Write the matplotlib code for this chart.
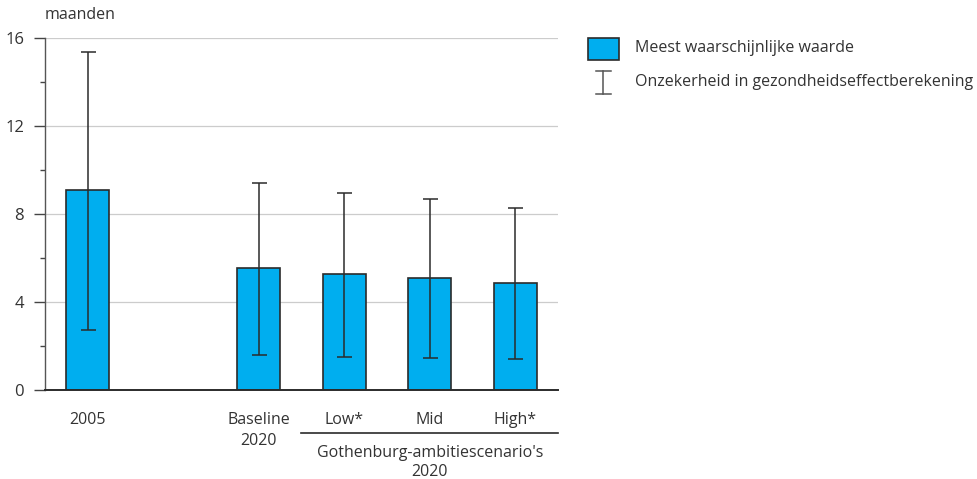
import numpy as np
import matplotlib.pyplot as plt
from matplotlib.patches import Rectangle
from matplotlib.lines import Line2D
import matplotlib.transforms as mtransforms

plt.rcParams['font.family'] = ['Open Sans', 'DejaVu Sans']
plt.rcParams['font.size'] = 11.5

# gezondheidseffect in maanden
labels = ['2005', 'Baseline', 'Low*', 'Mid', 'High*']
sublabels = ['', '2020', '', '', '']
positions = [0, 2, 3, 4, 5]
waarde = [9.10, 5.54, 5.26, 5.10, 4.85]
onder = [2.72, 1.61, 1.52, 1.46, 1.40]
boven = [15.38, 9.42, 8.96, 8.69, 8.28]

blauw = '#00aeef'
donker = '#2b2b2b'
tekst = '#333333'

fig = plt.figure(figsize=(9.78, 4.79), dpi=100)
ax = fig.add_axes([45 / 978, 1 - 390 / 479, 513 / 978, 351.7 / 479])

w = np.array(waarde)
yerr = [w - np.array(onder), np.array(boven) - w]
ax.bar(positions, waarde, width=0.5, color=blauw, edgecolor=donker, linewidth=1.2, zorder=2)
ax.errorbar(positions, waarde, yerr=yerr, fmt='none', ecolor=donker, elinewidth=1.1,
            capsize=5.4, capthick=1.1, zorder=3)

ax.set_xlim(-0.5, 5.5)
ax.set_ylim(0, 16)
ax.set_yticks([0, 4, 8, 12, 16])
ax.set_yticks([2, 6, 10, 14], minor=True)
ax.yaxis.grid(True, color='#cccccc', linewidth=0.9, zorder=0)
ax.set_axisbelow(True)
ax.tick_params(axis='y', which='major', length=8, width=1, color='#444444', pad=7,
               labelcolor=tekst, labelsize=12)
ax.tick_params(axis='y', which='minor', length=3.6, width=1, color='#444444')
ax.set_xticks([])

for s in ['top', 'right']:
    ax.spines[s].set_visible(False)
ax.spines['left'].set_color('#555555')
ax.spines['left'].set_linewidth(1.0)
ax.spines['bottom'].set_color(donker)
ax.spines['bottom'].set_linewidth(1.4)

trans = mtransforms.blended_transform_factory(ax.transData, ax.transAxes)
for p, lab, sub in zip(positions, labels, sublabels):
    ax.text(p, -0.085, lab, transform=trans, ha='center', va='center', color=tekst)
    if sub:
        ax.text(p, -0.145, sub, transform=trans, ha='center', va='center', color=tekst)

# groepering van de Gothenburg-scenario's
ax.add_line(Line2D([2.5, 5.5], [-0.123, -0.123], transform=trans, color=donker,
                   linewidth=1.2, clip_on=False))
ax.text(4, -0.178, "Gothenburg-ambitiescenario's", transform=trans, ha='center', va='center',
        color=tekst)
ax.text(4, -0.232, '2020', transform=trans, ha='center', va='center', color=tekst)

ax.text(0, 1.065, 'maanden', transform=ax.transAxes, ha='left', va='center', color=tekst)

# legenda
fig.add_artist(Rectangle((588 / 978, 1 - 60 / 479), 31 / 978, 22 / 479, transform=fig.transFigure,
                         facecolor=blauw, edgecolor=donker, linewidth=1.2))
fig.text(635 / 978, 1 - 48 / 479, 'Meest waarschijnlijke waarde', ha='left', va='center', color=tekst)
xi = 603.5 / 978
fig.add_artist(Line2D([xi, xi], [1 - 71 / 479, 1 - 94 / 479], transform=fig.transFigure,
                      color='#555555', linewidth=1.1))
for yy in [71, 94]:
    fig.add_artist(Line2D([xi - 7.5 / 978, xi + 7.5 / 978], [1 - yy / 479, 1 - yy / 479],
                          transform=fig.transFigure, color='#555555', linewidth=1.1))
fig.text(635 / 978, 1 - 82 / 479, 'Onzekerheid in gezondheidseffectberekening', ha='left',
         va='center', color=tekst)

fig.savefig('out.png', dpi=100)
